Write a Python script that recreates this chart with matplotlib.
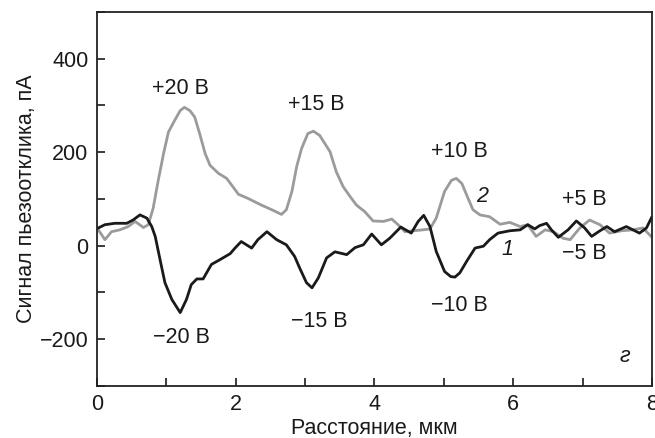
import matplotlib
matplotlib.use("Agg")
import matplotlib.pyplot as plt
from matplotlib.ticker import MultipleLocator

plt.rcParams['font.family'] = ['Liberation Sans', 'DejaVu Sans']

# Series 2 (grey, positive voltages)
x2 = [0.0, 0.02, 0.115, 0.21, 0.33, 0.45, 0.55, 0.67, 0.74, 0.81, 0.88, 0.96, 1.03, 1.12,
      1.20, 1.26, 1.34, 1.41, 1.48, 1.56, 1.63, 1.75, 1.87, 1.94, 2.04, 2.18, 2.37, 2.52,
      2.66, 2.73, 2.81, 2.88, 2.95, 3.04, 3.12, 3.21, 3.36, 3.45, 3.55, 3.65, 3.74, 3.86,
      3.98, 4.13, 4.25, 4.34, 4.44, 4.56, 4.70, 4.80, 4.89, 5.01, 5.11, 5.18, 5.26, 5.35,
      5.42, 5.52, 5.66, 5.81, 5.95, 6.10, 6.21, 6.33, 6.46, 6.58, 6.72, 6.82, 6.96, 7.10,
      7.25, 7.39, 7.56, 7.72, 7.87, 8.0]
y2 = [36, 34, 13, 30, 34, 41, 52, 39, 45, 80, 137, 197, 243, 268,
      289, 296, 289, 275, 240, 197, 172, 155, 144, 130, 110, 101, 87, 77,
      67, 77, 116, 170, 208, 240, 245, 236, 201, 158, 126, 105, 87, 73,
      53, 52, 57, 45, 30, 32, 34, 36, 59, 116, 140, 144, 133, 101,
      77, 66, 62, 46, 50, 41, 45, 20, 34, 30, 16, 13, 38, 55,
      45, 27, 32, 34, 38, 18]

# Series 1 (black, negative voltages)
x1 = [0.0, 0.02, 0.115, 0.26, 0.43, 0.52, 0.62, 0.72, 0.79, 0.84, 0.91, 0.98, 1.08, 1.20,
      1.29, 1.36, 1.44, 1.53, 1.65, 1.77, 1.92, 1.99, 2.08, 2.23, 2.32, 2.45, 2.59, 2.73,
      2.85, 2.92, 3.02, 3.10, 3.19, 3.31, 3.43, 3.60, 3.72, 3.84, 3.96, 4.10, 4.22, 4.38,
      4.53, 4.63, 4.71, 4.80, 4.89, 5.01, 5.10, 5.16, 5.23, 5.33, 5.45, 5.57, 5.66, 5.78,
      5.95, 6.10, 6.21, 6.31, 6.38, 6.48, 6.55, 6.65, 6.79, 6.91, 7.03, 7.13, 7.25, 7.35,
      7.46, 7.63, 7.82, 7.92, 8.0]
y1 = [37, 38, 45, 48, 48, 55, 66, 59, 41, 20, -30, -79, -115, -143,
      -115, -83, -71, -71, -40, -30, -17, -5, 9, -5, 13, 30, 13, 2,
      -23, -47, -79, -90, -69, -26, -13, -19, -4, 2, 25, 2, 16, 40,
      27, 52, 65, 41, -12, -55, -66, -67, -58, -33, -5, -1, 13, 27,
      32, 34, 45, 36, 43, 48, 34, 18, 34, 53, 38, 20, 32, 41,
      30, 41, 27, 38, 62]

labels = ["+20 В", "+15 В", "+10 В", "+5 В", "\u221220 В", "\u221215 В", "\u221210 В", "\u22125 В"]
label_x = [1.2, 3.16, 5.23, 7.02, 1.22, 3.21, 5.23, 7.02]
label_y = [336, 302, 202, 98, -196, -162, -128, -17]

FS = 15.5

fig = plt.figure(figsize=(6.55, 4.38), dpi=100)
ax = fig.add_axes([0.148, 0.1187, 0.8474, 0.854])

ax.plot(x2, y2, color='#9b9b9b', lw=2.0, solid_joinstyle='round', solid_capstyle='round')
ax.plot(x1, y1, color='#1a1a1a', lw=2.0, solid_joinstyle='round', solid_capstyle='round')

ax.set_xlim(0, 8)
ax.set_ylim(-300, 500)
ax.xaxis.set_major_locator(MultipleLocator(2))
ax.xaxis.set_minor_locator(MultipleLocator(1))
ax.yaxis.set_major_locator(MultipleLocator(200))
ax.yaxis.set_minor_locator(MultipleLocator(100))
ax.tick_params(which='both', direction='in', length=6, width=1.2, top=False, right=False,
               labelsize=FS, colors='#1a1a1a', pad=6)
for s in ax.spines.values():
    s.set_linewidth(1.3)
    s.set_color('#222222')

for t, xx, yy in zip(labels, label_x, label_y):
    ax.text(xx, yy, t, ha='center', va='center', fontsize=FS, color='#1a1a1a')

ax.text(5.55, 106, "2", ha='center', va='center', fontsize=FS, style='italic', color='#1a1a1a')
ax.text(5.92, -9, "1", ha='center', va='center', fontsize=FS, style='italic', color='#1a1a1a')
ax.text(7.61, -236, "г", ha='center', va='center', fontsize=FS, style='italic', color='#1a1a1a')

ax.set_xlabel("Расстояние, мкм", fontsize=FS, color='#1a1a1a', labelpad=2)
ax.set_ylabel("Сигнал пьезоотклика, пА", fontsize=FS, color='#1a1a1a', labelpad=2)

fig.savefig("out.png", dpi=100)
